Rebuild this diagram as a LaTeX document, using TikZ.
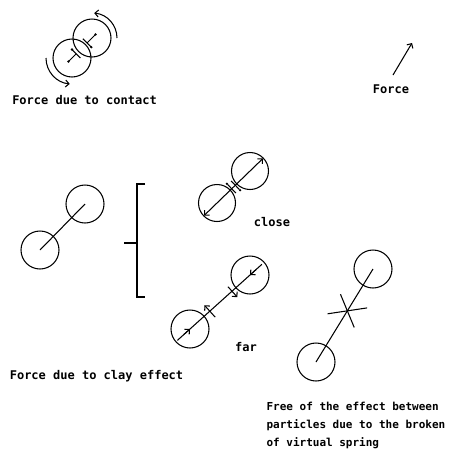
\documentclass[tikz,border=0pt]{standalone}
\usepackage{fontspec}
\setmonofont{DejaVu Sans Mono}
\usetikzlibrary{calc,arrows.meta}

\begin{document}
\begin{tikzpicture}[x=1pt,y=-1pt,line width=1.05pt,
  grain/.style={draw,circle,minimum size=38pt,inner sep=0pt},
  lbl/.style={font=\ttfamily\bfseries\fontsize{12}{12}\selectfont},
  >={Straight Barb[length=3.5pt,width=7pt]}]
  \useasboundingbox (0,0) rectangle (452,456);
  % force due to contact
  \node[grain] (ca) at (72,58) {};
  \node[grain] (cb) at (92,38) {};
  \coordinate (ka) at ($(ca)!6pt!(cb)$);
  \coordinate (kb) at ($(cb)!7pt!(ca)$);
  \draw ($(ca)!-5pt!(cb)$) -- (ka);
  \draw ($(cb)!-5pt!(ca)$) -- (kb);
  \draw ($(ka)!6pt!90:(cb)$) -- ($(ka)!6pt!-90:(cb)$);
  \draw ($(kb)!6pt!90:(ca)$) -- ($(kb)!6pt!-90:(ca)$);
  \fill ($(ca)!-5pt!(cb)$) circle (1.3pt);
  \fill ($(cb)!-5pt!(ca)$) circle (1.3pt);
  \fill ($(ka)!6pt!90:(cb)$) circle (1.3pt);
  \fill ($(kb)!6pt!90:(ca)$) circle (1.3pt);
  \draw[->] ($(ca)+(180:26)$) arc[start angle=180,end angle=95,radius=26];
  \draw[->] ($(cb)+(0:25)$) arc[start angle=0,end angle=-85,radius=25];
  \node[lbl] (contact) at (84.5,100) {Force due to contact};
  % force arrow
  \coordinate (f0) at (393,75);
  \coordinate (f1) at (412,43);
  \draw[->] (f0) -- (f1);
  \node[lbl] (force) at (391,89) {Force};
  % clay effect
  \node[grain] (ra) at (40,250) {};
  \node[grain] (rb) at (85,204) {};
  \draw (ra.center) -- (rb.center);
  \draw (145,184) -- (137,184) -- (137,297) -- (145,297);
  \draw (124,243) -- (137,243);
  \node[lbl] (clay) at (96.5,376) {Force due to clay effect};
  % close
  \node[grain,minimum size=37pt] (cl) at (217,203) {};
  \node[grain,minimum size=37pt] (cu) at (250,171) {};
  \draw[<->] ($(cl)!-18pt!(cu)$) -- ($(cu)!-18pt!(cl)$);
  \coordinate (gm) at ($(cl)!0.5!(cu)$);
  \coordinate (g1) at ($(gm)!2.5pt!(cl)$);
  \coordinate (g2) at ($(gm)!2.5pt!(cu)$);
  \draw ($(g1)!6pt!90:(cu)$) -- ($(g1)!6pt!-90:(cu)$);
  \draw ($(g2)!6pt!90:(cu)$) -- ($(g2)!6pt!-90:(cu)$);
  \fill ($(g1)!7pt!90:(cu)$) circle (1.2pt);
  \fill ($(g2)!7pt!-90:(cu)$) circle (1.2pt);
  \node[lbl] (close) at (272,222) {close};
  % far
  \node[grain] (fl) at (190,329) {};
  \node[grain] (fu) at (250,275) {};
  \draw ($(fl)!-17pt!(fu)$) -- ($(fu)!-16pt!(fl)$);
  \draw[->] ($(fl)!-8pt!(fu)$) -- (fl.center);
  \draw[->] ($(fu)!-8pt!(fl)$) -- (fu.center);
  \coordinate (p1) at ($(fl)!0.33!(fu)$);
  \coordinate (p2) at ($(fl)!0.7!(fu)$);
  \draw[->] ($(p1)!8pt!-90:(fu)$) -- ($(p1)!8pt!90:(fu)$);
  \draw[->] ($(p2)!6pt!90:(fu)$) -- ($(p2)!8pt!-90:(fu)$);
  \node[lbl] (far) at (246,347) {far};
  % broken spring
  \node[grain] (bl) at (316,362) {};
  \node[grain] (bu) at (373,269) {};
  \draw (bl.center) -- (bu.center);
  \coordinate (bx) at ($(bl)!0.55!(bu)$);
  \draw ($(bx)!20pt!-50:(bu)$) -- ($(bx)!-20pt!-50:(bu)$);
  \draw ($(bx)!18pt!54:(bu)$) -- ($(bx)!-18pt!54:(bu)$);
  \node[font=\ttfamily\bfseries\fontsize{11}{18}\selectfont,anchor=west,align=left,inner sep=0pt] (note) at (266,425)
    {Free of the effect between\\particles due to the broken\\of virtual spring};
\end{tikzpicture}
\end{document}
